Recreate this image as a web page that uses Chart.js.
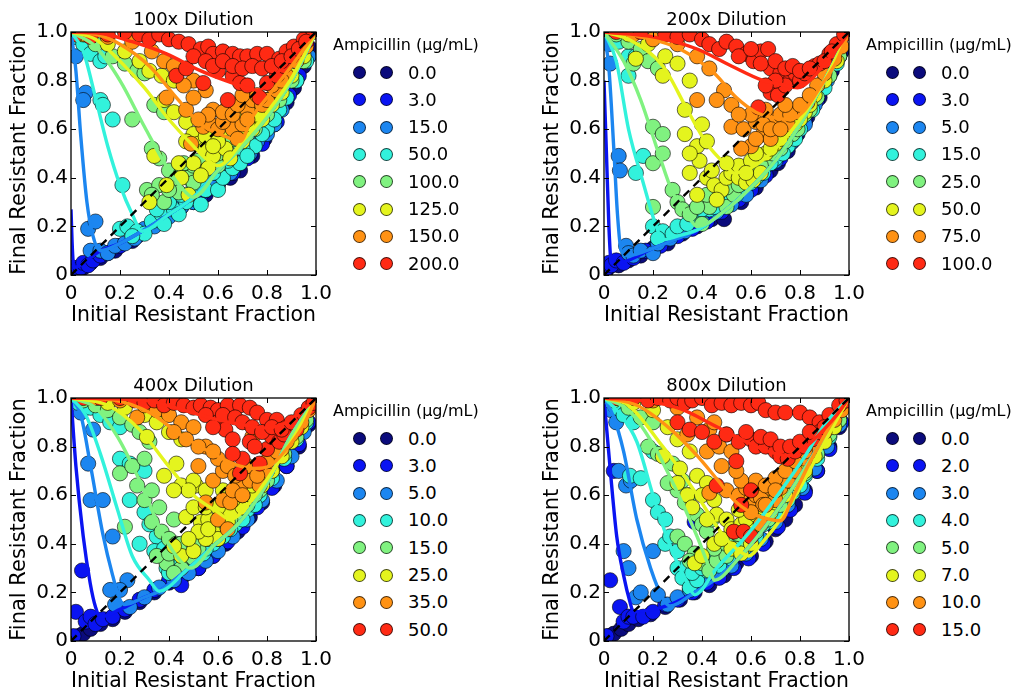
<!DOCTYPE html>
<html><head><meta charset="utf-8">
<script src="https://cdn.jsdelivr.net/npm/chart.js@4.4.1/dist/chart.umd.min.js"></script>
<style>
html,body{margin:0;padding:0;background:#fff;width:1015px;height:691px;overflow:hidden;font-family:"DejaVu Sans",sans-serif;}
canvas{position:absolute;}
.legTitle{position:absolute;font-size:16px;line-height:16px;white-space:nowrap;color:#000;}
.dot{position:absolute;width:13px;height:13px;border-radius:50%;border:1px solid rgba(0,0,0,0.7);box-sizing:border-box;}
.lab{position:absolute;font-size:18px;line-height:18px;white-space:nowrap;color:#000;}
</style></head><body>
<script>
// ---------- text / categories ----------
const dilutionTitles = ['100x Dilution', '200x Dilution', '400x Dilution', '800x Dilution'];
const legendTitle = 'Ampicillin (\u00b5g/mL)';
const conc100 = ['0.0', '3.0', '15.0', '50.0', '100.0', '125.0', '150.0', '200.0'];
const conc200 = ['0.0', '3.0', '5.0', '15.0', '25.0', '50.0', '75.0', '100.0'];
const conc400 = ['0.0', '3.0', '5.0', '10.0', '15.0', '25.0', '35.0', '50.0'];
const conc800 = ['0.0', '2.0', '3.0', '4.0', '5.0', '7.0', '10.0', '15.0'];
const xTitle = 'Initial Resistant Fraction';
const yTitle = 'Final Resistant Fraction';
const tickValues = [0, 0.2, 0.4, 0.6, 0.8, 1.0];
const tickLabels = ['0', '0.2', '0.4', '0.6', '0.8', '1.0'];
const identityLine = [0, 1];

// ---------- measured points (x, y pairs) ----------
// 100x dilution
const pts100_0 = [0.01,0.01, 0.03,0.02, 0.05,0.03, 0.08,0.05, 0.12,0.07, 0.18,0.1, 0.25,0.14, 0.35,0.21, 0.42,0.26, 0.5,0.3, 0.55,0.33, 0.6,0.37, 0.65,0.4, 0.69,0.43, 0.74,0.49, 0.79,0.56, 0.83,0.62, 0.88,0.71, 0.91,0.77, 0.95,0.86, 0.98,0.93];
const pts100_1 = [0.005,0.01, 0.01,0.03, 0.02,0.02, 0.04,0.03, 0.05,0.05, 0.07,0.04, 0.09,0.06, 0.12,0.08, 0.15,0.09, 0.2,0.12, 0.27,0.16, 0.35,0.22, 0.45,0.28, 0.53,0.33, 0.6,0.38, 0.66,0.42, 0.72,0.48, 0.78,0.54, 0.84,0.63, 0.89,0.74, 0.93,0.82, 0.97,0.9];
const pts100_2 = [0.01,0.98, 0.02,0.9, 0.06,0.75, 0.05,0.72, 0.07,0.19, 0.1,0.22, 0.08,0.1, 0.12,0.1, 0.15,0.09, 0.18,0.12, 0.22,0.13, 0.26,0.15, 0.3,0.19, 0.34,0.2, 0.4,0.24, 0.45,0.28, 0.5,0.3, 0.55,0.35, 0.62,0.4, 0.68,0.46, 0.73,0.5, 0.8,0.58, 0.86,0.68, 0.92,0.8, 0.97,0.9, 0.35,0.23, 0.42,0.28, 0.48,0.31, 0.58,0.36, 0.65,0.42, 0.76,0.55, 0.83,0.62];
const pts100_3 = [0.02,0.98, 0.05,0.95, 0.08,0.91, 0.12,0.88, 0.14,0.9, 0.12,0.72, 0.13,0.7, 0.17,0.64, 0.21,0.37, 0.2,0.19, 0.23,0.2, 0.27,0.18, 0.3,0.17, 0.33,0.22, 0.37,0.25, 0.42,0.27, 0.47,0.3, 0.53,0.29, 0.55,0.35, 0.6,0.35, 0.62,0.4, 0.66,0.44, 0.69,0.46, 0.75,0.53, 0.8,0.6, 0.85,0.68, 0.88,0.73, 0.92,0.8, 0.96,0.88, 0.35,0.27, 0.4,0.3, 0.45,0.33, 0.5,0.36, 0.52,0.38, 0.58,0.42, 0.64,0.47, 0.7,0.52, 0.72,0.49, 0.78,0.58, 0.83,0.64, 0.38,0.21, 0.44,0.25, 0.25,0.16];
const pts100_4 = [0.03,0.99, 0.1,0.95, 0.17,0.9, 0.22,0.87, 0.27,0.84, 0.3,0.83, 0.25,0.64, 0.34,0.7, 0.38,0.67, 0.33,0.52, 0.36,0.48, 0.4,0.43, 0.31,0.35, 0.36,0.37, 0.42,0.38, 0.45,0.42, 0.48,0.4, 0.5,0.45, 0.52,0.47, 0.55,0.43, 0.57,0.5, 0.6,0.45, 0.64,0.5, 0.68,0.55, 0.72,0.58, 0.75,0.6, 0.8,0.66, 0.85,0.72, 0.9,0.8, 0.95,0.88, 0.38,0.3, 0.44,0.34, 0.5,0.38, 0.54,0.42, 0.6,0.5, 0.62,0.55, 0.66,0.56, 0.7,0.6, 0.74,0.64, 0.78,0.68, 0.46,0.46, 0.4,0.35, 0.33,0.33];
const pts100_5 = [0.05,0.99, 0.15,0.95, 0.22,0.92, 0.28,0.88, 0.32,0.84, 0.37,0.82, 0.42,0.8, 0.38,0.72, 0.42,0.67, 0.47,0.63, 0.5,0.58, 0.47,0.55, 0.34,0.49, 0.39,0.37, 0.32,0.3, 0.48,0.33, 0.52,0.54, 0.55,0.52, 0.58,0.49, 0.63,0.52, 0.65,0.48, 0.68,0.58, 0.7,0.55, 0.74,0.6, 0.78,0.64, 0.82,0.7, 0.86,0.75, 0.9,0.82, 0.95,0.9, 0.45,0.4, 0.56,0.44, 0.55,0.57, 0.6,0.55, 0.62,0.6, 0.66,0.62, 0.7,0.65, 0.72,0.62, 0.76,0.66, 0.8,0.72, 0.84,0.78, 0.5,0.46, 0.53,0.41, 0.58,0.53, 0.44,0.46];
const pts100_6 = [0.06,0.99, 0.15,0.98, 0.25,0.96, 0.33,0.92, 0.38,0.88, 0.42,0.86, 0.5,0.8, 0.55,0.76, 0.39,0.73, 0.47,0.68, 0.5,0.73, 0.54,0.61, 0.57,0.62, 0.6,0.6, 0.66,0.6, 0.62,0.63, 0.64,0.69, 0.7,0.62, 0.72,0.68, 0.74,0.72, 0.78,0.7, 0.8,0.72, 0.84,0.76, 0.88,0.82, 0.92,0.88, 0.96,0.94, 0.49,0.54, 0.68,0.56, 0.58,0.68, 0.62,0.67, 0.66,0.66, 0.68,0.7, 0.7,0.74, 0.76,0.74, 0.82,0.78, 0.86,0.8, 0.72,0.64, 0.56,0.66, 0.46,0.78, 0.52,0.64];
const pts100_7 = [0.02,0.99, 0.08,0.98, 0.15,0.99, 0.22,1.0, 0.28,0.99, 0.32,0.97, 0.36,0.99, 0.4,0.97, 0.44,0.96, 0.48,0.95, 0.53,0.93, 0.56,0.94, 0.58,0.91, 0.62,0.92, 0.66,0.91, 0.69,0.9, 0.72,0.9, 0.76,0.91, 0.8,0.91, 0.85,0.89, 0.88,0.92, 0.91,0.94, 0.95,0.97, 0.99,1.0, 0.43,0.82, 0.47,0.85, 0.54,0.79, 0.6,0.84, 0.66,0.82, 0.69,0.79, 0.72,0.78, 0.77,0.73, 0.8,0.79, 0.84,0.82, 0.87,0.86, 0.64,0.72, 0.5,0.9, 0.55,0.88, 0.58,0.86, 0.62,0.88, 0.66,0.86, 0.7,0.85, 0.74,0.86, 0.78,0.85, 0.82,0.86, 0.86,0.88, 0.9,0.9, 0.93,0.93, 0.96,0.96];
// 200x dilution
const pts200_0 = [0.01,0.02, 0.03,0.04, 0.06,0.04, 0.1,0.06, 0.15,0.08, 0.2,0.11, 0.26,0.13, 0.32,0.17, 0.38,0.2, 0.44,0.23, 0.49,0.23, 0.56,0.3, 0.62,0.36, 0.68,0.43, 0.71,0.46, 0.75,0.51, 0.79,0.58, 0.83,0.65, 0.88,0.73, 0.93,0.84, 0.97,0.92];
const pts200_1 = [0.005,0.02, 0.02,0.05, 0.03,0.04, 0.05,0.06, 0.08,0.05, 0.12,0.07, 0.17,0.1, 0.23,0.12, 0.3,0.16, 0.36,0.19, 0.42,0.22, 0.48,0.26, 0.55,0.31, 0.6,0.35, 0.66,0.41, 0.72,0.48, 0.77,0.55, 0.82,0.63, 0.87,0.72, 0.92,0.82, 0.96,0.9];
const pts200_2 = [0.01,0.98, 0.02,0.95, 0.025,0.87, 0.06,0.49, 0.065,0.43, 0.09,0.12, 0.1,0.09, 0.12,0.08, 0.15,0.1, 0.2,0.09, 0.22,0.13, 0.27,0.15, 0.33,0.18, 0.4,0.22, 0.46,0.26, 0.52,0.29, 0.58,0.33, 0.64,0.39, 0.7,0.47, 0.76,0.54, 0.82,0.62, 0.86,0.7, 0.91,0.8, 0.96,0.9];
const pts200_3 = [0.03,0.99, 0.06,0.96, 0.1,0.9, 0.13,0.9, 0.1,0.82, 0.16,0.49, 0.13,0.42, 0.2,0.2, 0.24,0.18, 0.22,0.15, 0.28,0.17, 0.3,0.2, 0.34,0.21, 0.38,0.24, 0.43,0.27, 0.48,0.3, 0.54,0.33, 0.6,0.38, 0.65,0.42, 0.7,0.48, 0.75,0.53, 0.8,0.6, 0.85,0.68, 0.9,0.77, 0.95,0.87, 0.36,0.26, 0.4,0.27, 0.45,0.28, 0.5,0.32, 0.56,0.36, 0.62,0.4, 0.68,0.46, 0.73,0.5, 0.78,0.56];
const pts200_4 = [0.05,0.99, 0.1,0.96, 0.15,0.93, 0.18,0.88, 0.12,0.87, 0.22,0.85, 0.2,0.61, 0.24,0.58, 0.2,0.46, 0.24,0.5, 0.2,0.28, 0.28,0.35, 0.3,0.3, 0.32,0.27, 0.35,0.25, 0.4,0.3, 0.4,0.21, 0.43,0.28, 0.46,0.32, 0.5,0.28, 0.53,0.33, 0.57,0.38, 0.62,0.43, 0.67,0.48, 0.72,0.52, 0.77,0.58, 0.82,0.66, 0.87,0.73, 0.92,0.82, 0.96,0.9, 0.45,0.35, 0.5,0.36, 0.55,0.37, 0.6,0.42, 0.64,0.45, 0.69,0.5, 0.74,0.55, 0.79,0.6, 0.84,0.68, 0.38,0.28, 0.42,0.33];
const pts200_5 = [0.1,0.99, 0.13,0.89, 0.18,0.95, 0.24,0.82, 0.25,0.9, 0.3,0.87, 0.35,0.8, 0.33,0.68, 0.4,0.62, 0.33,0.58, 0.38,0.53, 0.39,0.47, 0.35,0.42, 0.42,0.4, 0.45,0.37, 0.48,0.35, 0.5,0.4, 0.52,0.42, 0.55,0.4, 0.58,0.38, 0.61,0.39, 0.64,0.42, 0.66,0.5, 0.7,0.54, 0.74,0.58, 0.78,0.62, 0.82,0.67, 0.86,0.74, 0.9,0.8, 0.95,0.88, 0.38,0.33, 0.46,0.31, 0.55,0.45, 0.6,0.47, 0.62,0.5, 0.68,0.52, 0.72,0.56, 0.76,0.6, 0.8,0.64, 0.84,0.7, 0.44,0.43, 0.5,0.46, 0.58,0.42, 0.35,0.5, 0.42,0.55];
const pts200_6 = [0.12,0.99, 0.2,0.97, 0.3,0.95, 0.38,0.9, 0.43,0.85, 0.49,0.76, 0.38,0.72, 0.46,0.72, 0.52,0.7, 0.52,0.61, 0.57,0.6, 0.6,0.53, 0.62,0.63, 0.65,0.58, 0.68,0.56, 0.7,0.64, 0.72,0.66, 0.75,0.62, 0.79,0.67, 0.83,0.71, 0.87,0.78, 0.9,0.83, 0.94,0.89, 0.97,0.94, 0.56,0.52, 0.6,0.66, 0.65,0.62, 0.68,0.6, 0.72,0.6, 0.76,0.66, 0.8,0.7, 0.84,0.74, 0.55,0.66, 0.62,0.56, 0.66,0.68, 0.74,0.7];
const pts200_7 = [0.05,1.0, 0.15,1.0, 0.25,0.99, 0.3,0.98, 0.35,0.99, 0.4,0.97, 0.43,0.95, 0.47,0.93, 0.5,0.96, 0.54,0.94, 0.58,0.91, 0.61,0.88, 0.64,0.92, 0.67,0.93, 0.68,0.85, 0.72,0.83, 0.76,0.8, 0.78,0.83, 0.8,0.8, 0.82,0.83, 0.86,0.86, 0.88,0.87, 0.92,0.91, 0.95,0.95, 0.98,0.99, 0.68,0.75, 0.71,0.74, 0.63,0.69, 0.74,0.78, 0.55,0.9, 0.6,0.93, 0.64,0.87, 0.7,0.88, 0.74,0.85, 0.77,0.86, 0.8,0.84, 0.84,0.85, 0.9,0.88, 0.93,0.92, 0.7,0.8, 0.66,0.78];
// 400x dilution
const pts400_0 = [0.01,0.01, 0.03,0.02, 0.05,0.03, 0.08,0.05, 0.12,0.07, 0.17,0.09, 0.22,0.12, 0.28,0.16, 0.34,0.2, 0.4,0.24, 0.46,0.27, 0.52,0.3, 0.58,0.35, 0.63,0.4, 0.68,0.45, 0.73,0.51, 0.78,0.57, 0.83,0.64, 0.88,0.72, 0.93,0.8, 0.97,0.89];
const pts400_1 = [0.01,0.02, 0.02,0.12, 0.045,0.29, 0.06,0.08, 0.08,0.1, 0.1,0.07, 0.13,0.09, 0.17,0.1, 0.22,0.13, 0.28,0.17, 0.34,0.21, 0.4,0.25, 0.45,0.23, 0.48,0.38, 0.52,0.3, 0.58,0.35, 0.64,0.41, 0.7,0.47, 0.76,0.55, 0.82,0.63, 0.88,0.72, 0.93,0.81, 0.97,0.9];
const pts400_2 = [0.02,0.99, 0.04,0.94, 0.09,0.87, 0.07,0.73, 0.08,0.58, 0.13,0.58, 0.17,0.43, 0.23,0.25, 0.2,0.21, 0.16,0.21, 0.18,0.15, 0.24,0.14, 0.3,0.18, 0.36,0.22, 0.42,0.25, 0.48,0.28, 0.55,0.33, 0.6,0.37, 0.66,0.43, 0.72,0.5, 0.78,0.58, 0.84,0.66, 0.9,0.76, 0.95,0.86];
const pts400_3 = [0.03,0.98, 0.08,0.96, 0.12,0.93, 0.16,0.9, 0.2,0.88, 0.2,0.75, 0.24,0.73, 0.3,0.7, 0.24,0.58, 0.3,0.53, 0.35,0.43, 0.28,0.4, 0.34,0.37, 0.39,0.3, 0.42,0.33, 0.44,0.3, 0.46,0.35, 0.5,0.33, 0.54,0.36, 0.58,0.4, 0.62,0.43, 0.67,0.48, 0.72,0.54, 0.77,0.6, 0.82,0.67, 0.87,0.75, 0.92,0.83, 0.96,0.9, 0.4,0.28, 0.45,0.32, 0.5,0.36, 0.55,0.38, 0.6,0.42, 0.65,0.46, 0.7,0.5, 0.75,0.56, 0.38,0.38, 0.32,0.48];
const pts400_4 = [0.05,0.99, 0.1,0.97, 0.15,0.95, 0.2,0.92, 0.25,0.89, 0.28,0.86, 0.32,0.82, 0.2,0.69, 0.27,0.64, 0.3,0.58, 0.33,0.62, 0.22,0.47, 0.33,0.49, 0.37,0.45, 0.4,0.42, 0.43,0.4, 0.46,0.37, 0.48,0.35, 0.5,0.34, 0.45,0.3, 0.52,0.38, 0.56,0.42, 0.6,0.45, 0.64,0.48, 0.68,0.52, 0.72,0.56, 0.77,0.62, 0.82,0.7, 0.87,0.77, 0.92,0.84, 0.96,0.91, 0.39,0.32, 0.42,0.28, 0.35,0.35, 0.4,0.36, 0.45,0.4, 0.5,0.4, 0.55,0.45, 0.6,0.48, 0.65,0.5, 0.7,0.55, 0.75,0.6, 0.8,0.66, 0.36,0.55, 0.42,0.5, 0.25,0.72, 0.3,0.75];
const pts400_5 = [0.08,1.0, 0.15,0.98, 0.22,0.96, 0.3,0.93, 0.35,0.9, 0.4,0.86, 0.31,0.84, 0.45,0.83, 0.43,0.73, 0.45,0.64, 0.51,0.64, 0.5,0.66, 0.48,0.62, 0.55,0.62, 0.47,0.51, 0.53,0.49, 0.56,0.5, 0.58,0.45, 0.6,0.42, 0.55,0.42, 0.61,0.51, 0.64,0.49, 0.65,0.53, 0.7,0.55, 0.74,0.6, 0.78,0.64, 0.82,0.7, 0.86,0.76, 0.9,0.82, 0.94,0.88, 0.45,0.35, 0.5,0.37, 0.42,0.39, 0.5,0.55, 0.55,0.55, 0.6,0.55, 0.62,0.62, 0.66,0.58, 0.7,0.6, 0.74,0.64, 0.78,0.68, 0.82,0.74, 0.38,0.68, 0.42,0.62, 0.52,0.45, 0.56,0.46, 0.48,0.42];
const pts400_6 = [0.1,1.0, 0.2,0.99, 0.27,0.92, 0.3,0.97, 0.35,0.95, 0.4,0.93, 0.45,0.9, 0.5,0.88, 0.42,0.86, 0.47,0.83, 0.55,0.8, 0.52,0.72, 0.58,0.66, 0.62,0.7, 0.55,0.57, 0.62,0.58, 0.65,0.57, 0.68,0.62, 0.7,0.65, 0.73,0.66, 0.77,0.64, 0.74,0.84, 0.8,0.7, 0.82,0.74, 0.86,0.79, 0.9,0.85, 0.94,0.9, 0.97,0.95, 0.6,0.5, 0.64,0.46, 0.6,0.75, 0.64,0.72, 0.67,0.68, 0.72,0.72, 0.76,0.68, 0.8,0.74, 0.84,0.78, 0.88,0.82, 0.58,0.78, 0.52,0.8, 0.66,0.62, 0.7,0.6];
const pts400_7 = [0.05,1.0, 0.12,1.0, 0.2,1.0, 0.26,0.99, 0.3,0.98, 0.34,0.99, 0.38,0.97, 0.42,0.98, 0.46,0.97, 0.5,0.96, 0.53,0.97, 0.57,0.96, 0.6,0.95, 0.64,0.97, 0.69,0.97, 0.73,0.96, 0.76,0.94, 0.8,0.91, 0.84,0.91, 0.88,0.88, 0.92,0.87, 0.94,0.93, 0.97,0.96, 0.99,0.98, 0.6,0.9, 0.63,0.87, 0.66,0.83, 0.7,0.75, 0.69,0.69, 0.73,0.82, 0.77,0.73, 0.8,0.79, 0.82,0.84, 0.85,0.82, 0.87,0.85, 0.55,0.93, 0.62,0.93, 0.67,0.92, 0.7,0.9, 0.74,0.88, 0.78,0.86, 0.82,0.88, 0.86,0.87, 0.9,0.9, 0.58,0.88, 0.66,0.77, 0.75,0.8];
// 800x dilution
const pts800_0 = [0.005,0.01, 0.02,0.02, 0.04,0.03, 0.07,0.05, 0.1,0.07, 0.14,0.09, 0.19,0.11, 0.25,0.14, 0.31,0.17, 0.37,0.2, 0.43,0.23, 0.49,0.27, 0.54,0.32, 0.6,0.35, 0.66,0.41, 0.7,0.46, 0.74,0.5, 0.78,0.56, 0.82,0.62, 0.87,0.7, 0.92,0.8, 0.96,0.88];
const pts800_1 = [0.01,0.02, 0.025,0.25, 0.04,0.7, 0.065,0.14, 0.08,0.08, 0.1,0.1, 0.12,0.1, 0.16,0.1, 0.2,0.12, 0.25,0.15, 0.3,0.17, 0.36,0.2, 0.37,0.49, 0.42,0.24, 0.47,0.26, 0.53,0.3, 0.59,0.34, 0.65,0.4, 0.71,0.47, 0.76,0.54, 0.82,0.61, 0.87,0.7, 0.92,0.79, 0.97,0.9];
const pts800_2 = [0.01,0.98, 0.03,0.95, 0.05,0.9, 0.06,0.7, 0.09,0.64, 0.11,0.66, 0.08,0.37, 0.1,0.3, 0.13,0.18, 0.15,0.2, 0.2,0.37, 0.22,0.19, 0.26,0.15, 0.3,0.18, 0.35,0.21, 0.4,0.25, 0.46,0.28, 0.52,0.31, 0.58,0.36, 0.64,0.42, 0.7,0.49, 0.75,0.56, 0.81,0.63, 0.86,0.71, 0.91,0.8, 0.96,0.89];
const pts800_3 = [0.02,0.99, 0.05,0.96, 0.08,0.93, 0.12,0.9, 0.106,0.68, 0.15,0.67, 0.2,0.78, 0.2,0.58, 0.22,0.53, 0.25,0.4, 0.27,0.43, 0.3,0.3, 0.32,0.26, 0.34,0.31, 0.35,0.22, 0.38,0.25, 0.42,0.29, 0.47,0.31, 0.52,0.34, 0.57,0.38, 0.62,0.43, 0.67,0.49, 0.72,0.55, 0.77,0.61, 0.82,0.68, 0.87,0.75, 0.92,0.84, 0.96,0.91, 0.36,0.28, 0.4,0.3, 0.45,0.34, 0.5,0.37, 0.55,0.4, 0.6,0.44, 0.65,0.48, 0.7,0.52, 0.75,0.58, 0.8,0.64, 0.25,0.5, 0.3,0.37];
const pts800_4 = [0.04,0.99, 0.1,0.96, 0.15,0.92, 0.2,0.9, 0.18,0.8, 0.22,0.77, 0.28,0.73, 0.3,0.62, 0.33,0.57, 0.35,0.6, 0.38,0.52, 0.4,0.48, 0.42,0.45, 0.3,0.43, 0.33,0.4, 0.37,0.36, 0.4,0.32, 0.43,0.29, 0.46,0.33, 0.5,0.35, 0.54,0.38, 0.58,0.41, 0.62,0.45, 0.67,0.5, 0.72,0.56, 0.77,0.62, 0.82,0.69, 0.87,0.77, 0.92,0.85, 0.96,0.91, 0.35,0.33, 0.45,0.38, 0.5,0.4, 0.55,0.44, 0.6,0.47, 0.65,0.52, 0.7,0.58, 0.75,0.62, 0.8,0.68, 0.44,0.5, 0.26,0.65, 0.32,0.66];
const pts800_5 = [0.06,1.0, 0.12,0.98, 0.2,0.95, 0.24,0.76, 0.26,0.88, 0.3,0.83, 0.31,0.71, 0.35,0.78, 0.34,0.6, 0.38,0.68, 0.42,0.65, 0.4,0.6, 0.45,0.58, 0.46,0.52, 0.5,0.5, 0.52,0.46, 0.56,0.48, 0.6,0.46, 0.58,0.5, 0.62,0.52, 0.65,0.55, 0.68,0.53, 0.7,0.57, 0.74,0.6, 0.78,0.65, 0.82,0.7, 0.86,0.76, 0.9,0.82, 0.94,0.88, 0.37,0.32, 0.4,0.35, 0.45,0.4, 0.52,0.38, 0.56,0.36, 0.55,0.54, 0.6,0.55, 0.64,0.58, 0.68,0.6, 0.72,0.64, 0.76,0.68, 0.8,0.72, 0.84,0.78, 0.48,0.42, 0.42,0.5, 0.36,0.55, 0.3,0.65, 0.6,0.4];
const pts800_6 = [0.1,1.0, 0.2,0.99, 0.3,0.96, 0.34,0.85, 0.38,0.92, 0.43,0.87, 0.45,0.9, 0.5,0.85, 0.42,0.78, 0.47,0.8, 0.52,0.78, 0.43,0.61, 0.5,0.62, 0.55,0.6, 0.58,0.63, 0.6,0.58, 0.62,0.6, 0.64,0.59, 0.65,0.56, 0.68,0.63, 0.7,0.58, 0.72,0.63, 0.75,0.66, 0.78,0.7, 0.82,0.75, 0.86,0.8, 0.9,0.86, 0.94,0.91, 0.97,0.95, 0.6,0.53, 0.64,0.48, 0.62,0.66, 0.66,0.64, 0.7,0.67, 0.74,0.7, 0.78,0.74, 0.82,0.78, 0.56,0.66, 0.54,0.7, 0.48,0.72, 0.7,0.62, 0.66,0.56];
const pts800_7 = [0.05,1.0, 0.12,1.0, 0.18,0.99, 0.22,1.0, 0.27,0.99, 0.3,1.0, 0.33,0.98, 0.36,0.99, 0.4,1.0, 0.44,0.97, 0.48,0.98, 0.52,0.97, 0.56,0.98, 0.6,0.97, 0.63,0.98, 0.66,0.95, 0.7,0.94, 0.74,0.94, 0.8,0.94, 0.84,0.92, 0.88,0.9, 0.92,0.93, 0.96,0.97, 0.99,0.99, 0.3,0.9, 0.35,0.87, 0.4,0.86, 0.45,0.82, 0.5,0.85, 0.55,0.82, 0.6,0.83, 0.62,0.8, 0.66,0.8, 0.7,0.78, 0.72,0.76, 0.75,0.75, 0.78,0.78, 0.82,0.8, 0.85,0.83, 0.88,0.86, 0.54,0.74, 0.46,0.64, 0.53,0.45, 0.57,0.45, 0.6,0.43, 0.58,0.86, 0.64,0.84, 0.68,0.83, 0.72,0.8, 0.76,0.8, 0.8,0.82, 0.84,0.86, 0.9,0.88, 0.56,0.56, 0.6,0.62];

// ---------- fitted curves (x, y pairs); the 0.0 series has no fitted curve ----------
const fit100_1 = [0,0.27, 0.006,0.1, 0.012,0.03, 0.05,0.05, 0.12,0.1, 0.2,0.13, 0.29,0.18, 0.4,0.25, 0.5,0.32, 0.6,0.43, 0.7,0.53, 0.8,0.65, 0.9,0.8, 1,1];
const fit100_2 = [0,1, 0.02,0.84, 0.04,0.57, 0.065,0.3, 0.09,0.16, 0.12,0.1, 0.2,0.13, 0.29,0.18, 0.4,0.25, 0.5,0.32, 0.6,0.43, 0.7,0.53, 0.8,0.65, 0.9,0.8, 1,1];
const fit100_3 = [0,1, 0.05,0.92, 0.1,0.73, 0.15,0.53, 0.2,0.37, 0.25,0.25, 0.29,0.18, 0.4,0.25, 0.5,0.32, 0.6,0.43, 0.7,0.53, 0.8,0.65, 0.9,0.8, 1,1];
const fit100_4 = [0,1, 0.1,0.94, 0.2,0.8, 0.3,0.61, 0.4,0.43, 0.45,0.36, 0.5,0.32, 0.6,0.43, 0.7,0.53, 0.8,0.65, 0.9,0.8, 1,1];
const fit100_5 = [0,1, 0.1,0.97, 0.2,0.88, 0.3,0.77, 0.4,0.64, 0.5,0.53, 0.55,0.48, 0.6,0.45, 0.7,0.55, 0.8,0.67, 0.9,0.81, 1,1];
const fit100_6 = [0,1, 0.1,0.99, 0.2,0.95, 0.32,0.86, 0.43,0.73, 0.53,0.62, 0.63,0.57, 0.69,0.55, 0.74,0.65, 0.8,0.73, 0.9,0.86, 1,1];
const fit100_7 = [0,1, 0.12,0.995, 0.25,0.96, 0.39,0.91, 0.53,0.84, 0.66,0.79, 0.76,0.76, 0.84,0.83, 0.93,0.93, 1,1];
const fit200_1 = [0,0.8, 0.01,0.5, 0.02,0.2, 0.03,0.05, 0.06,0.05, 0.1,0.06, 0.2,0.11, 0.3,0.15, 0.39,0.19, 0.5,0.27, 0.6,0.36, 0.7,0.47, 0.8,0.62, 0.9,0.8, 1,1];
const fit200_2 = [0,1, 0.02,0.85, 0.04,0.52, 0.055,0.25, 0.07,0.1, 0.1,0.08, 0.2,0.11, 0.3,0.15, 0.39,0.19, 0.5,0.27, 0.6,0.36, 0.7,0.47, 0.8,0.62, 0.9,0.8, 1,1];
const fit200_3 = [0,1, 0.05,0.88, 0.1,0.6, 0.16,0.38, 0.21,0.21, 0.24,0.145, 0.3,0.16, 0.39,0.19, 0.5,0.27, 0.6,0.36, 0.7,0.47, 0.8,0.62, 0.9,0.8, 1,1];
const fit200_4 = [0,1, 0.08,0.88, 0.15,0.72, 0.22,0.51, 0.28,0.34, 0.34,0.25, 0.38,0.2, 0.5,0.27, 0.6,0.36, 0.7,0.47, 0.8,0.62, 0.9,0.8, 1,1];
const fit200_5 = [0,1, 0.1,0.97, 0.24,0.86, 0.34,0.68, 0.42,0.54, 0.5,0.45, 0.53,0.42, 0.6,0.44, 0.7,0.52, 0.8,0.64, 0.9,0.8, 1,1];
const fit200_6 = [0,1, 0.15,0.98, 0.31,0.93, 0.45,0.83, 0.54,0.73, 0.62,0.67, 0.68,0.65, 0.76,0.64, 0.82,0.68, 0.88,0.77, 0.95,0.88, 1,1];
const fit200_7 = [0,1, 0.2,0.98, 0.38,0.93, 0.52,0.86, 0.65,0.8, 0.72,0.785, 0.79,0.77, 0.85,0.81, 0.9,0.87, 0.95,0.93, 1,1];
const fit400_1 = [0,1, 0.02,0.72, 0.05,0.43, 0.078,0.24, 0.1,0.14, 0.12,0.1, 0.2,0.13, 0.3,0.18, 0.36,0.205, 0.47,0.29, 0.58,0.39, 0.69,0.49, 0.8,0.65, 0.89,0.83, 1,1];
const fit400_2 = [0,1, 0.04,0.93, 0.08,0.72, 0.13,0.44, 0.17,0.27, 0.2,0.17, 0.22,0.15, 0.3,0.18, 0.36,0.205, 0.47,0.29, 0.58,0.39, 0.69,0.49, 0.8,0.65, 0.89,0.83, 1,1];
const fit400_3 = [0,1, 0.06,0.93, 0.12,0.77, 0.19,0.54, 0.25,0.35, 0.32,0.25, 0.36,0.205, 0.47,0.29, 0.58,0.39, 0.69,0.49, 0.8,0.65, 0.89,0.83, 1,1];
const fit400_4 = [0,1, 0.1,0.96, 0.19,0.84, 0.28,0.66, 0.36,0.47, 0.43,0.35, 0.49,0.3, 0.58,0.39, 0.69,0.49, 0.8,0.65, 0.89,0.83, 1,1];
const fit400_5 = [0,1, 0.15,0.97, 0.28,0.87, 0.39,0.73, 0.5,0.6, 0.6,0.53, 0.65,0.5, 0.73,0.57, 0.83,0.71, 0.91,0.84, 1,1];
const fit400_6 = [0,1, 0.18,0.99, 0.32,0.94, 0.46,0.84, 0.6,0.76, 0.69,0.72, 0.75,0.71, 0.81,0.72, 0.88,0.79, 0.95,0.89, 1,1];
const fit400_7 = [0,1, 0.3,0.99, 0.46,0.95, 0.6,0.91, 0.73,0.885, 0.8,0.877, 0.88,0.9, 0.95,0.955, 1,1];
const fit800_1 = [0,1, 0.025,0.71, 0.052,0.43, 0.08,0.27, 0.106,0.16, 0.12,0.12, 0.2,0.13, 0.27,0.15, 0.37,0.2, 0.45,0.25, 0.55,0.34, 0.65,0.46, 0.75,0.6, 0.85,0.76, 0.93,0.89, 1,1];
const fit800_2 = [0,1, 0.04,0.92, 0.08,0.78, 0.134,0.5, 0.19,0.3, 0.243,0.17, 0.27,0.144, 0.37,0.2, 0.45,0.25, 0.55,0.34, 0.65,0.46, 0.75,0.6, 0.85,0.76, 0.93,0.89, 1,1];
const fit800_3 = [0,1, 0.06,0.94, 0.134,0.82, 0.2,0.6, 0.27,0.39, 0.34,0.24, 0.37,0.19, 0.46,0.3, 0.57,0.42, 0.65,0.52, 0.73,0.63, 0.82,0.76, 0.9,0.89, 1,1];
const fit800_4 = [0,1, 0.1,0.95, 0.2,0.81, 0.3,0.61, 0.38,0.43, 0.43,0.3, 0.45,0.25, 0.55,0.34, 0.65,0.46, 0.75,0.6, 0.85,0.76, 0.93,0.89, 1,1];
const fit800_5 = [0,1, 0.1,0.97, 0.24,0.8, 0.3,0.72, 0.38,0.6, 0.49,0.43, 0.56,0.365, 0.59,0.35, 0.65,0.41, 0.72,0.5, 0.8,0.63, 0.88,0.78, 0.95,0.91, 1,1];
const fit800_6 = [0,1, 0.134,0.97, 0.27,0.873, 0.38,0.763, 0.46,0.667, 0.54,0.571, 0.625,0.516, 0.68,0.5, 0.72,0.495, 0.775,0.6, 0.84,0.735, 0.9,0.846, 0.95,0.93, 1,1];
const fit800_7 = [0,1, 0.15,0.99, 0.31,0.956, 0.45,0.887, 0.584,0.818, 0.68,0.777, 0.75,0.763, 0.83,0.805, 0.9,0.873, 0.95,0.93, 1,1];

// ---------- grouping ----------
const panelConcs = [conc100, conc200, conc400, conc800];
const panelPoints = [
  [pts100_0, pts100_1, pts100_2, pts100_3, pts100_4, pts100_5, pts100_6, pts100_7],
  [pts200_0, pts200_1, pts200_2, pts200_3, pts200_4, pts200_5, pts200_6, pts200_7],
  [pts400_0, pts400_1, pts400_2, pts400_3, pts400_4, pts400_5, pts400_6, pts400_7],
  [pts800_0, pts800_1, pts800_2, pts800_3, pts800_4, pts800_5, pts800_6, pts800_7]
];
const panelFits = [
  [null, fit100_1, fit100_2, fit100_3, fit100_4, fit100_5, fit100_6, fit100_7],
  [null, fit200_1, fit200_2, fit200_3, fit200_4, fit200_5, fit200_6, fit200_7],
  [null, fit400_1, fit400_2, fit400_3, fit400_4, fit400_5, fit400_6, fit400_7],
  [null, fit800_1, fit800_2, fit800_3, fit800_4, fit800_5, fit800_6, fit800_7]
];

// ---------- styles & layout ----------
const seriesColors = ['#0b0b7c', '#0a14f2', '#1c86f0', '#32f2dc', '#80f280', '#e4f41e', '#ff9214', '#ff2a14'];
const FONT = '"DejaVu Sans", sans-serif';
const panelPos = [{left: 0, top: 0}, {left: 533, top: 0}, {left: 0, top: 366}, {left: 533, top: 366}];
const CW = 350, CH = 340, AREA_L = 71, AREA_T = 32, AREA_R = 316, AREA_B = 275;

function toXY(flat) {
  const out = [];
  for (let i = 0; i < flat.length; i += 2) out.push({x: flat[i], y: flat[i + 1]});
  return out;
}

const framePlugin = {
  id: 'frame',
  afterDatasetsDraw(chart, args, opts) {
    const {ctx, chartArea: a} = chart;
    const xs = chart.scales.x, ys = chart.scales.y;
    ctx.save();
    ctx.strokeStyle = '#000';
    ctx.lineWidth = 1.3;
    ctx.strokeRect(a.left, a.top, a.right - a.left, a.bottom - a.top);
    ctx.lineWidth = 1;
    const L = 5;
    ctx.beginPath();
    xs.ticks.forEach(t => {
      const px = Math.round(xs.getPixelForValue(t.value)) + 0.5;
      ctx.moveTo(px, a.bottom); ctx.lineTo(px, a.bottom - L);
      ctx.moveTo(px, a.top); ctx.lineTo(px, a.top + L);
    });
    ys.ticks.forEach(t => {
      const py = Math.round(ys.getPixelForValue(t.value)) + 0.5;
      ctx.moveTo(a.left, py); ctx.lineTo(a.left + L, py);
      ctx.moveTo(a.right, py); ctx.lineTo(a.right - L, py);
    });
    ctx.stroke();
    ctx.fillStyle = '#000';
    ctx.font = '18px ' + FONT;
    ctx.textAlign = 'center';
    ctx.textBaseline = 'alphabetic';
    ctx.fillText(opts.text, (a.left + a.right) / 2, a.top - 7);
    ctx.restore();
  }
};

panelPos.forEach((pos, p) => {
  const cv = document.createElement('canvas');
  cv.width = CW; cv.height = CH;
  cv.style.left = pos.left + 'px'; cv.style.top = pos.top + 'px';
  cv.style.width = CW + 'px'; cv.style.height = CH + 'px';
  document.body.appendChild(cv);

  const datasets = [];
  panelPoints[p].forEach((flat, k) => {
    datasets.push({
      type: 'scatter', data: toXY(flat), order: 40 - k, clip: 0,
      backgroundColor: seriesColors[k], borderColor: 'rgba(0,0,0,0.75)',
      pointRadius: 7.6, pointBorderWidth: 0.8, pointHoverRadius: 7.6
    });
  });
  panelFits[p].forEach((flat, k) => {
    if (!flat) return;
    datasets.push({
      type: 'line', data: toXY(flat), order: 20 - k, clip: 0,
      borderColor: seriesColors[k], borderWidth: 3.4, pointRadius: 0,
      fill: false, cubicInterpolationMode: 'monotone'
    });
  });
  datasets.push({
    type: 'line', data: identityLine.map(v => ({x: v, y: v})), order: 0, clip: 0,
    borderColor: '#000', borderWidth: 2.4, borderDash: [8, 6], pointRadius: 0, fill: false
  });

  new Chart(cv, {
    type: 'scatter',
    data: {datasets},
    options: {
      responsive: false, animation: false, devicePixelRatio: 1,
      events: [],
      layout: {padding: {left: 0, top: AREA_T, right: CW - AREA_R, bottom: 0}},
      plugins: {legend: {display: false}, tooltip: {enabled: false}, frame: {text: dilutionTitles[p]}},
      scales: {
        x: {
          type: 'linear', min: 0, max: 1,
          afterBuildTicks: s => { s.ticks = tickValues.map(v => ({value: v})); },
          afterFit: s => { s.height = CH - AREA_B; },
          grid: {display: false, drawTicks: false}, border: {display: false},
          ticks: {color: '#000', font: {family: FONT, size: 20}, padding: 7, maxRotation: 0, autoSkip: false,
                  callback: (v, i) => tickLabels[i]},
          title: {display: true, text: xTitle, color: '#000', font: {family: FONT, size: 21}, padding: {top: 0, bottom: 12}}
        },
        y: {
          type: 'linear', min: 0, max: 1,
          afterBuildTicks: s => { s.ticks = tickValues.map(v => ({value: v})); },
          afterFit: s => { s.width = AREA_L; },
          grid: {display: false, drawTicks: false}, border: {display: false},
          ticks: {color: '#000', font: {family: FONT, size: 20}, padding: 3, autoSkip: false,
                  callback: (v, i) => tickLabels[i]},
          title: {display: true, text: yTitle, color: '#000', font: {family: FONT, size: 21}, padding: {top: 7, bottom: 0}}
        }
      }
    },
    plugins: [framePlugin]
  });

  // legend (two markers per entry, like the original)
  const ax = pos.left + AREA_R, ay = pos.top + AREA_T;
  const t = document.createElement('div');
  t.className = 'legTitle'; t.textContent = legendTitle;
  t.style.left = (ax + 17) + 'px'; t.style.top = (ay + 5) + 'px';
  document.body.appendChild(t);
  panelConcs[p].forEach((lab, k) => {
    const cy = ay + 40.5 + k * 27.3;
    [43, 70].forEach(dx => {
      const d = document.createElement('div');
      d.className = 'dot'; d.style.background = seriesColors[k];
      d.style.left = (ax + dx - 6.5) + 'px'; d.style.top = (cy - 6.5) + 'px';
      document.body.appendChild(d);
    });
    const l = document.createElement('div');
    l.className = 'lab'; l.textContent = lab;
    l.style.left = (ax + 92) + 'px'; l.style.top = (cy - 9) + 'px';
    document.body.appendChild(l);
  });
});
</script>
</body></html>
